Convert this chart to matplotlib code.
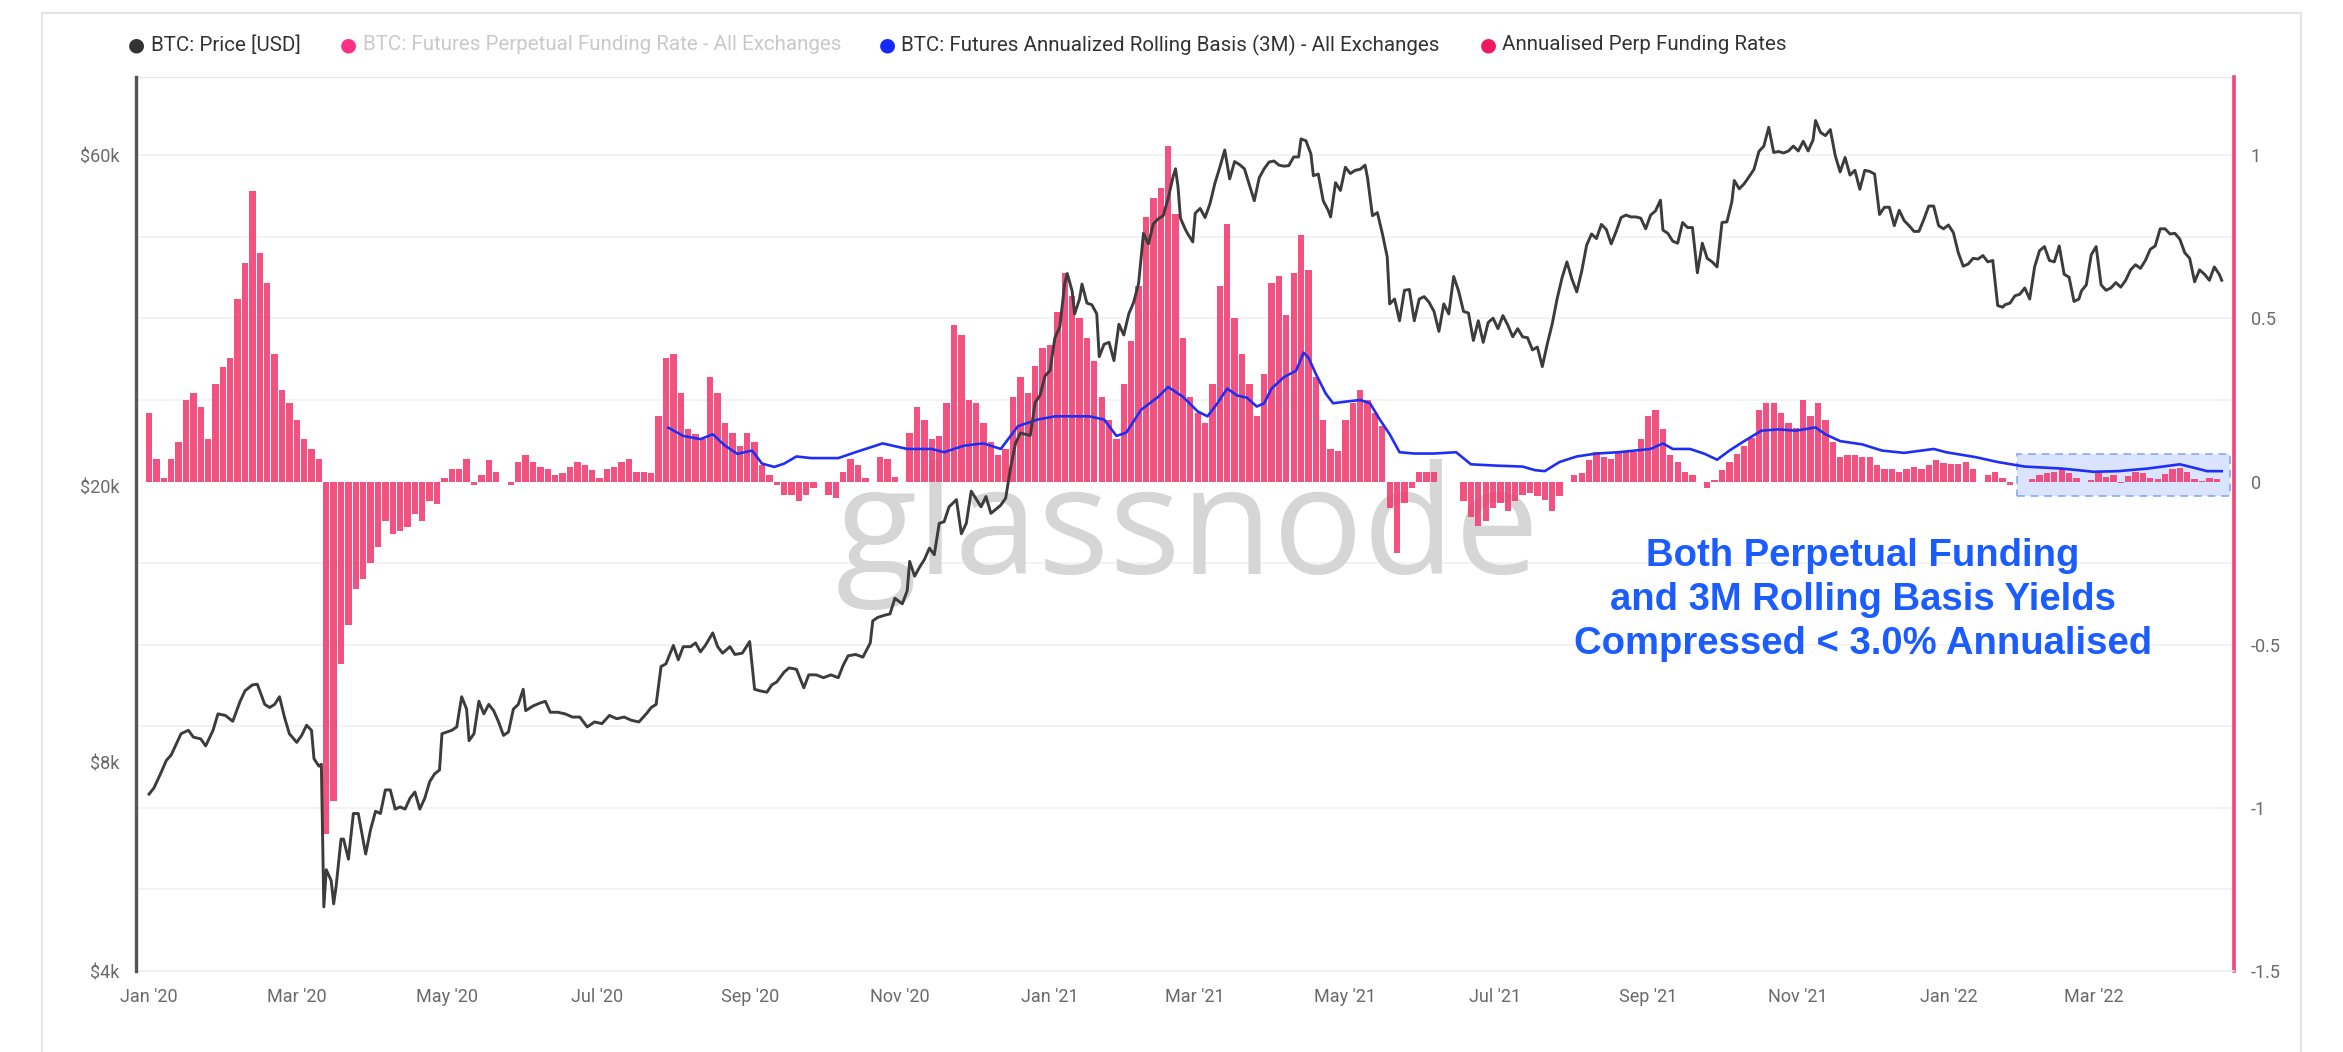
import numpy as np
import pandas as pd
import matplotlib
matplotlib.use("Agg")
import matplotlib.pyplot as plt
import matplotlib.dates as mdates
from matplotlib.patches import Rectangle
from matplotlib.ticker import FixedLocator, FixedFormatter, NullLocator

# ---------------- data ----------------
price_dates = [
 "2020-01-01","2020-01-03","2020-01-06","2020-01-08","2020-01-10","2020-01-14","2020-01-17","2020-01-19","2020-01-22","2020-01-24",
 "2020-01-27","2020-01-29","2020-02-01","2020-02-04","2020-02-07","2020-02-09","2020-02-12","2020-02-14","2020-02-17","2020-02-19",
 "2020-02-21","2020-02-23","2020-02-25","2020-02-27","2020-03-01","2020-03-03","2020-03-05","2020-03-07","2020-03-08","2020-03-10",
 "2020-03-11","2020-03-12","2020-03-13","2020-03-15","2020-03-16","2020-03-17","2020-03-19","2020-03-20","2020-03-22","2020-03-24",
 "2020-03-26","2020-03-29","2020-03-31","2020-04-02","2020-04-04","2020-04-06","2020-04-08","2020-04-10","2020-04-12","2020-04-14",
 "2020-04-16","2020-04-18","2020-04-20","2020-04-22","2020-04-24","2020-04-26","2020-04-28","2020-04-29","2020-05-01","2020-05-03",
 "2020-05-05","2020-05-07","2020-05-09","2020-05-10","2020-05-12","2020-05-14","2020-05-16","2020-05-18","2020-05-20","2020-05-22",
 "2020-05-24","2020-05-26","2020-05-28","2020-05-30","2020-06-01","2020-06-02","2020-06-05","2020-06-08","2020-06-10","2020-06-12",
 "2020-06-15","2020-06-18","2020-06-21","2020-06-24","2020-06-27","2020-06-30","2020-07-03","2020-07-06","2020-07-09","2020-07-12",
 "2020-07-15","2020-07-18","2020-07-21","2020-07-23","2020-07-25","2020-07-27","2020-07-29","2020-08-01","2020-08-03","2020-08-05",
 "2020-08-08","2020-08-10","2020-08-12","2020-08-14","2020-08-17","2020-08-19","2020-08-21","2020-08-24","2020-08-26","2020-08-29",
 "2020-09-01","2020-09-03","2020-09-05","2020-09-08","2020-09-10","2020-09-12","2020-09-15","2020-09-17","2020-09-20","2020-09-23",
 "2020-09-25","2020-09-28","2020-10-01","2020-10-04","2020-10-07","2020-10-09","2020-10-11","2020-10-14","2020-10-17","2020-10-20",
 "2020-10-21","2020-10-23","2020-10-26","2020-10-28","2020-10-30","2020-11-02","2020-11-04","2020-11-05","2020-11-07","2020-11-09",
 "2020-11-11","2020-11-13","2020-11-15","2020-11-17","2020-11-19","2020-11-21","2020-11-24","2020-11-26","2020-11-28","2020-11-30",
 "2020-12-02","2020-12-04","2020-12-06","2020-12-08","2020-12-10","2020-12-12","2020-12-14","2020-12-16","2020-12-18","2020-12-20",
 "2020-12-22","2020-12-24","2020-12-26","2020-12-28","2020-12-30","2021-01-01","2021-01-03","2021-01-05","2021-01-07","2021-01-08",
 "2021-01-10","2021-01-11","2021-01-13","2021-01-14","2021-01-16","2021-01-18","2021-01-20","2021-01-21","2021-01-23","2021-01-25",
 "2021-01-27","2021-01-29","2021-01-31","2021-02-02","2021-02-04","2021-02-06","2021-02-08","2021-02-10","2021-02-12","2021-02-14",
 "2021-02-16","2021-02-18","2021-02-20","2021-02-21","2021-02-22","2021-02-23","2021-02-25","2021-02-26","2021-02-28","2021-03-01",
 "2021-03-03","2021-03-05","2021-03-07","2021-03-09","2021-03-11","2021-03-13","2021-03-15","2021-03-17","2021-03-19","2021-03-21",
 "2021-03-23","2021-03-25","2021-03-27","2021-03-29","2021-03-31","2021-04-02","2021-04-04","2021-04-06","2021-04-08","2021-04-10",
 "2021-04-12","2021-04-13","2021-04-15","2021-04-17","2021-04-18","2021-04-20","2021-04-22","2021-04-24","2021-04-25","2021-04-27",
 "2021-04-29","2021-05-01","2021-05-03","2021-05-05","2021-05-07","2021-05-09","2021-05-10","2021-05-12","2021-05-14","2021-05-16",
 "2021-05-18","2021-05-19","2021-05-21","2021-05-23","2021-05-25","2021-05-27","2021-05-29","2021-05-31","2021-06-02","2021-06-04",
 "2021-06-06","2021-06-08","2021-06-10","2021-06-12","2021-06-14","2021-06-16","2021-06-18","2021-06-20","2021-06-22","2021-06-24",
 "2021-06-26","2021-06-28","2021-06-30","2021-07-02","2021-07-04","2021-07-06","2021-07-08","2021-07-10","2021-07-12","2021-07-14",
 "2021-07-16","2021-07-18","2021-07-20","2021-07-22","2021-07-24","2021-07-26","2021-07-28","2021-07-30","2021-08-01","2021-08-03",
 "2021-08-05","2021-08-07","2021-08-09","2021-08-11","2021-08-13","2021-08-15","2021-08-17","2021-08-19","2021-08-21","2021-08-23",
 "2021-08-25","2021-08-27","2021-08-29","2021-08-31","2021-09-02","2021-09-04","2021-09-06","2021-09-07","2021-09-09","2021-09-11",
 "2021-09-13","2021-09-15","2021-09-17","2021-09-19","2021-09-21","2021-09-23","2021-09-25","2021-09-27","2021-09-29","2021-10-01",
 "2021-10-03","2021-10-05","2021-10-06","2021-10-08","2021-10-10","2021-10-12","2021-10-14","2021-10-16","2021-10-18","2021-10-20",
 "2021-10-22","2021-10-24","2021-10-26","2021-10-28","2021-10-30","2021-11-01","2021-11-03","2021-11-05","2021-11-07","2021-11-08",
 "2021-11-10","2021-11-12","2021-11-14","2021-11-16","2021-11-18","2021-11-20","2021-11-22","2021-11-24","2021-11-26","2021-11-28",
 "2021-11-30","2021-12-02","2021-12-04","2021-12-06","2021-12-08","2021-12-10","2021-12-12","2021-12-14","2021-12-16","2021-12-18",
 "2021-12-20","2021-12-22","2021-12-24","2021-12-26","2021-12-28","2021-12-30","2022-01-01","2022-01-03","2022-01-05","2022-01-07",
 "2022-01-09","2022-01-11","2022-01-13","2022-01-15","2022-01-17","2022-01-19","2022-01-21","2022-01-23","2022-01-24","2022-01-26",
 "2022-01-28","2022-01-30","2022-02-01","2022-02-03","2022-02-05","2022-02-07","2022-02-09","2022-02-11","2022-02-13","2022-02-15",
 "2022-02-17","2022-02-19","2022-02-21","2022-02-23","2022-02-24","2022-02-26","2022-02-28","2022-03-02","2022-03-04","2022-03-06",
 "2022-03-08","2022-03-10","2022-03-12","2022-03-14","2022-03-16","2022-03-18","2022-03-20","2022-03-22","2022-03-24","2022-03-26",
 "2022-03-28","2022-03-30","2022-04-01","2022-04-03","2022-04-05","2022-04-07","2022-04-09","2022-04-11","2022-04-13","2022-04-15",
 "2022-04-17","2022-04-19","2022-04-21","2022-04-22"]
price_usd = [
 7200,7350,7750,8050,8200,8800,8900,8700,8650,8450,
 8900,9400,9350,9170,9800,10150,10350,10370,9700,9600,
 9700,9950,9300,8800,8550,8750,9050,8900,8100,7900,
 7950,4950,5600,5400,5000,5300,6200,6200,5800,6750,
 6750,5900,6400,6800,6750,7300,7300,6850,6900,6850,
 7100,7250,6850,7100,7500,7700,7800,8800,8850,8900,
 9000,9950,9550,8600,8800,9800,9400,9700,9500,9150,
 8750,8850,9550,9700,10200,9500,9650,9750,9800,9450,
 9450,9400,9300,9300,9000,9150,9100,9350,9250,9300,
 9200,9150,9400,9600,9700,11000,11100,11800,11250,11750,
 11750,11900,11550,11800,12300,11750,11500,11750,11450,11500,
 11950,10200,10150,10100,10350,10450,10800,10950,10900,10250,
 10700,10700,10600,10700,10600,11050,11400,11450,11350,11900,
 12800,12950,13050,13100,13800,13550,14150,15600,14850,15300,
 15700,16300,15950,17700,17800,18700,19150,17100,17700,19700,
 19200,18700,19350,18300,18550,18800,19250,21300,23100,23900,
 23800,23700,26450,27100,28900,29400,32800,34000,39300,40600,
 38300,35500,37300,39200,36800,36600,35500,30800,32100,32300,
 30400,34300,33100,35500,36900,39300,46400,44800,47900,48700,
 49200,52100,56000,57500,54200,48800,47000,46300,45100,49600,
 50400,48900,51200,54800,57800,61200,55600,58900,58300,57500,
 54500,51700,55800,57500,58800,59000,58200,58000,58100,59800,
 59800,63500,63100,60400,56200,56500,51700,50100,49000,54900,
 53500,57800,56600,57200,57400,58200,55800,49200,49700,46400,
 42900,36700,37300,34700,38400,38500,34700,37300,37600,36900,
 35800,33500,36700,35500,40200,38300,35800,35600,32500,34700,
 32300,34500,35000,33800,35300,34200,32900,33800,32900,32800,
 31500,31800,29800,32100,34300,37300,40000,42200,39900,38200,
 40900,44600,46300,45600,47800,47000,44800,46700,48900,49300,
 49000,49000,48800,47100,49300,50000,51800,46900,46400,45200,
 44900,48100,47300,47300,40700,44900,42700,42200,41500,48100,
 48200,51500,55300,53800,54700,56000,57400,60900,62000,66000,
 60700,60900,60600,61000,62000,61000,63000,61000,63300,67500,
 64900,64200,65500,60100,56900,59700,56300,57200,53700,57200,
 57000,56500,49400,50600,50600,47600,50100,48400,47600,46700,
 46700,48600,50800,50800,47600,47100,47700,46500,43500,41600,
 41900,42700,42600,43100,42200,42400,36500,36300,36600,36800,
 37700,37900,38700,37300,41500,43800,44400,42400,42200,44500,
 40500,40100,37000,37300,38300,39100,43200,44400,39100,38400,
 38700,39400,38800,39700,41100,41800,41300,42400,44000,44500,
 47100,47100,46300,46400,45500,43500,42700,39500,41100,40500,
 39700,41500,40500,39700]

# annualised perp funding rate, one value every 3 days from 2020-01-01
funding_start = "2020-01-01"
funding_step_days = 3
funding_2020a = [0.21,0.07,0.01,0.07,0.12,0.25,0.27,0.23,0.13,0.30,0.35,0.38,0.56,0.67,0.89,0.70,
                 0.61,0.39,0.28,0.24,0.19,0.13,0.10,0.07]
funding_2020b = [-1.08,-0.98,-0.56,-0.44,-0.33,-0.30,-0.25,-0.20,-0.12,-0.16,-0.15,-0.14,-0.10,-0.12,-0.06,-0.07,
                 0.01,0.04,0.04,0.07,-0.01,0.02,0.065,0.03,0.0,-0.01,0.06,0.08,0.06,0.045,0.04,0.02,0.025,0.045,
                 0.06,0.05,0.035,0.01,0.04,0.045,0.06,0.07,0.03,0.03,0.025,0.20]
funding_2020c = [0.38,0.39,0.27,0.16,0.145,0.13,0.32,0.27,0.18,0.15,0.11,0.15,0.12,0.05,0.02,-0.01,-0.04,-0.04,
                 -0.06,-0.04,-0.02,0.0,-0.04,-0.05,0.03,0.07,0.05,0.01,0.0,0.075,0.07,0.015,0.0,0.15,0.23,0.19,
                 0.13,0.14,0.24,0.48,0.45,0.25,0.24,0.18,0.12,0.08,0.10,0.26,0.32,0.27,0.355,0.41,0.42,0.52,
                 0.64,0.57,0.50,0.44,0.37,0.26,0.19,0.13,0.30,0.43,0.60,0.81,0.87,0.90,1.03]
funding_2021 = [0.82,0.44,0.26,0.21,0.18,0.30,0.60,0.79,0.50,0.39,0.30,0.20,0.33,0.61,0.63,0.51,0.64,0.755,
                0.65,0.32,0.19,0.10,0.095,0.19,0.24,0.28,0.25,0.21,0.17,-0.08,-0.22,-0.065,-0.02,0.03,0.03,0.03,
                0.0,0.0,0.0,-0.06,-0.11,-0.135,-0.12,-0.08,-0.065,-0.09,-0.06,-0.04,-0.035,-0.045,-0.055,-0.09,
                -0.045,0.0,0.02,0.025,0.065,0.09,0.075,0.07,0.09,0.095,0.09,0.13,0.20,0.22,0.16,0.08,0.06,0.03]
funding_2022 = [0.02,0.0,-0.02,0.005,0.035,0.06,0.085,0.11,0.135,0.22,0.24,0.24,0.21,0.18,0.165,0.25,0.20,
                0.24,0.19,0.12,0.075,0.08,0.08,0.075,0.075,0.05,0.04,0.04,0.03,0.04,0.045,0.04,0.05,0.065,
                0.058,0.055,0.055,0.06,0.04,0.0,0.02,0.03,0.01,-0.012,0.0,0.0,0.008,0.02,0.027,0.03,0.04,
                0.027,0.012,0.0,0.005,0.027,0.015,0.02,-0.005,0.018,0.03,0.027,0.01,0.008,0.023,0.04,0.043,
                0.028,0.008,0.003,0.01,0.008]

# 3M rolling basis: days after 2020-01-01 and annualised value
basis_day = [211,217,224,229,234,239,245,249,254,258,263,269,280,287,298,308,318,323,331,339,346,349,353,361,
             368,382,388,393,397,403,410,414,420,426,430,434,438,442,446,450,453,456,461,466,469,471,474,478,
             481,486,492,496,500,504,508,514,522,531,537,547,558,563,567,573,580,588,597,610,615,619,626,632,
             637,642,648,655,662,669,677,681,687,696,704,713,725,730,742,751,762,777,790,800,812,825,832,836,842]
basis_val = [0.165,0.14,0.13,0.145,0.11,0.085,0.095,0.055,0.045,0.055,0.077,0.072,0.072,0.09,0.117,0.10,0.10,
             0.09,0.11,0.117,0.10,0.13,0.17,0.19,0.20,0.20,0.19,0.14,0.15,0.22,0.26,0.29,0.26,0.215,0.20,0.24,
             0.285,0.264,0.257,0.23,0.24,0.285,0.32,0.34,0.395,0.38,0.33,0.27,0.24,0.245,0.25,0.24,0.19,0.145,
             0.09,0.086,0.086,0.09,0.053,0.049,0.046,0.035,0.032,0.06,0.077,0.086,0.09,0.10,0.117,0.10,0.10,
             0.085,0.067,0.095,0.124,0.156,0.16,0.156,0.166,0.145,0.124,0.114,0.095,0.088,0.10,0.09,0.075,0.06,
             0.046,0.04,0.03,0.032,0.04,0.053,0.04,0.032,0.032]

left_ticks = [4000, 8000, 20000, 60000]
left_labels = ["$4k", "$8k", "$20k", "$60k"]
right_ticks = [-1.5, -1.0, -0.5, 0.0, 0.5, 1.0]
right_labels = ["-1.5", "-1", "-0.5", "0", "0.5", "1"]
legend_labels = ["BTC: Price [USD]",
                 "BTC: Futures Perpetual Funding Rate - All Exchanges",
                 "BTC: Futures Annualized Rolling Basis (3M) - All Exchanges",
                 "Annualised Perp Funding Rates"]
annotation = "Both Perpetual Funding\nand 3M Rolling Basis Yields\nCompressed < 3.0% Annualised"

# ---------------- figure ----------------
W, H = 2343, 1052
fig = plt.figure(figsize=(W / 100, H / 100), dpi=100)
fig.patch.set_facecolor("white")

L, R, T, B = 136, 2234, 77, 971
ax_f = fig.add_axes([L / W, 1 - B / H, (R - L) / W, (B - T) / H])
ax_p = ax_f.twinx()

base = pd.Timestamp("2020-01-01")
p_dates = pd.to_datetime(price_dates)
f_vals = np.array(funding_2020a + funding_2020b + funding_2020c + funding_2021 + funding_2022)
f_dates = pd.Timestamp(funding_start) + pd.to_timedelta(np.arange(len(f_vals)) * funding_step_days, unit="D")
b_dates = base + pd.to_timedelta(basis_day, unit="D")

# faint grid
for v in [1.0, 0.75, 0.5, 0.25, -0.25, -0.5, -0.75, -1.0, -1.25]:
    ax_f.axhline(v, color="#f2f2f2", lw=1.3, zorder=0)
ax_f.axhline(1.24, color="#e8e8e8", lw=1.5, zorder=0)

# watermark
ax_f.text(1188 / W, 1 - 574 / H, "glassnode", transform=fig.transFigure, ha="center", va="baseline",
          fontsize=108, family="Open Sans", color="#d6d6d6", zorder=0.5)

# highlight box
x0 = mdates.date2num(base + pd.Timedelta(days=759))
x1 = mdates.date2num(base + pd.Timedelta(days=845.5))
ax_f.add_patch(Rectangle((x0, -0.043), x1 - x0, 0.129, facecolor="#cfdcff", alpha=0.75,
                         edgecolor="#7d9cf5", lw=1.4, ls=(0, (4, 3)), zorder=1))

# funding bars
ax_f.bar(f_dates, f_vals, width=funding_step_days * 0.86, color="#f23a70", alpha=0.88,
         linewidth=0, zorder=2)
# basis line
ax_f.plot(b_dates, basis_val, color="#1f2ef5", lw=1.9, zorder=3)

# price line
ax_p.plot(p_dates, price_usd, color="#3c3c3c", lw=2.1, zorder=4)

# limits
ax_f.set_xlim(mdates.date2num(base - pd.Timedelta(days=5.3)), mdates.date2num(base + pd.Timedelta(days=847)))
ax_f.set_ylim(-1.5, 1.24)
ax_p.set_yscale("log")
ax_p.set_ylim(4000, 78000)

# axes styling
tick_color = "#6a6a6a"
ax_f.yaxis.tick_right()
ax_f.yaxis.set_major_locator(FixedLocator(right_ticks))
ax_f.yaxis.set_major_formatter(FixedFormatter(right_labels))
ax_f.tick_params(axis="y", length=0, pad=12, labelsize=13, labelcolor=tick_color)
ax_p.yaxis.tick_left()
ax_p.yaxis.set_major_locator(FixedLocator(left_ticks))
ax_p.yaxis.set_major_formatter(FixedFormatter(left_labels))
ax_p.yaxis.set_minor_locator(NullLocator())
ax_p.tick_params(axis="y", which="both", length=0, pad=12, labelsize=13, labelcolor=tick_color)

ax_f.xaxis.set_major_locator(mdates.MonthLocator(bymonth=[1, 3, 5, 7, 9, 11]))
ax_f.xaxis.set_major_formatter(mdates.DateFormatter("%b '%y"))
ax_f.tick_params(axis="x", length=0, pad=12, labelsize=13, labelcolor=tick_color)

for a in (ax_f, ax_p):
    for s in a.spines.values():
        s.set_visible(False)
ax_p.spines["left"].set_visible(True)
ax_p.spines["left"].set_color("#555555")
ax_p.spines["left"].set_linewidth(2.4)
ax_f.spines["right"].set_visible(True)
ax_f.spines["right"].set_color("#f2457a")
ax_f.spines["right"].set_linewidth(2.6)
ax_f.spines["bottom"].set_visible(True)
ax_f.spines["bottom"].set_color("#eeeeee")
ax_f.spines["bottom"].set_linewidth(1.2)

for lab in ax_f.get_xticklabels() + ax_f.get_yticklabels() + ax_p.get_yticklabels():
    lab.set_family("Roboto")

# legend
leg_y = 1 - 45 / H
leg_items = [(136, 151, "#333333", "#333333"),
             (348, 363, "#ff2f86", "#c9c9c9"),
             (887, 901, "#1428ff", "#333333"),
             (1488, 1502, "#f0195e", "#333333")]
for (dx, tx, dc, tc), lab in zip(leg_items, legend_labels):
    fig.text(dx / W, leg_y, "\u25CF", color=dc, fontsize=14, ha="center", va="center", family="DejaVu Sans")
    fig.text(tx / W, leg_y, lab, color=tc, fontsize=14.8, ha="left", va="center", family="Roboto")

# annotation
fig.text(1863 / W, 1 - 600 / H, annotation, color="#1b5cff", fontsize=27.5, fontweight="bold",
         family="Liberation Sans", ha="center", va="center", linespacing=1.28, multialignment="center")

# card border
fig.add_artist(Rectangle((42 / W, -0.01), (2301 - 42) / W, 1.01 - 13 / H, transform=fig.transFigure,
                         facecolor="none", edgecolor="#e4e4e4", lw=1.5))

fig.savefig("out.png", dpi=100, facecolor="white")
